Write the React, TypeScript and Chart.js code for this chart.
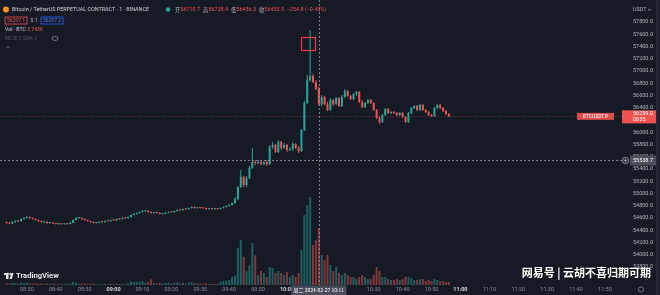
import React, { useEffect, useRef } from "react";
import { Chart, registerables } from "chart.js";

Chart.register(...registerables);

// ---------- data (1-minute candles, BTCUSDT.P, 2024-02-27) ----------
const firstCandleTime = "08:23";

const opens = [
  54525, 54517, 54509, 54533, 54550, 54545, 54583, 54599, 54615, 54599,
  54583, 54566, 54550, 54533, 54536, 54517, 54520, 54509, 54501, 54505,
  54498, 54503, 54500, 54517, 54566, 54599, 54602, 54583, 54566, 54550,
  54533, 54517, 54520, 54533, 54530, 54550, 54546, 54566, 54562, 54583,
  54580, 54599, 54596, 54615, 54648, 54664, 54681, 54697, 54713, 54716,
  54697, 54681, 54684, 54681, 54664, 54668, 54681, 54697, 54694, 54713,
  54730, 54727, 54746, 54742, 54762, 54779, 54762, 54765, 54762, 54758,
  54746, 54750, 54744, 54748, 54746, 54762, 54779, 54795, 54811,
  54844, 54909, 55105, 55268, 55138, 55252, 55415, 55513, 55497, 55513,
  55481, 55513, 55481, 55758, 55791, 55677, 55840, 55742, 55791, 55709,
  55726, 55808, 55742, 55693, 56036, 56477, 56853, 56918, 56820, 56710.7,
  56455, 56575, 56461, 56363, 56526, 56461, 56559, 56428, 56575, 56673,
  56591, 56542, 56624, 56657, 56493, 56411, 56477, 56526, 56477, 56363,
  56232, 56167, 56281, 56379, 56314, 56330, 56314, 56281, 56314, 56248,
  56167, 56314, 56395, 56428, 56363, 56444, 56363, 56330, 56281, 56265,
  56395, 56444, 56395, 56346, 56297,
];

const highs = [
  54540, 54528, 54545, 54562, 54565, 54595, 54610, 54628, 54625, 54608,
  54592, 54575, 54560, 54545, 54542, 54530, 54526, 54518, 54512, 54514,
  54510, 54512, 54528, 54575, 54610, 54612, 54608, 54590, 54572, 54556,
  54540, 54528, 54542, 54540, 54558, 54556, 54575, 54572, 54590, 54590,
  54606, 54606, 54622, 54655, 54672, 54690, 54705, 54722, 54725, 54722,
  54704, 54690, 54690, 54688, 54675, 54690, 54706, 54705, 54722, 54738,
  54736, 54755, 54752, 54770, 54788, 54785, 54770, 54772, 54770, 54765,
  54755, 54756, 54752, 54754, 54770, 54788, 54803, 54820, 54852,
  54942, 55122, 55383, 55285, 55285, 55448, 55742, 55546, 55546, 55546,
  55530, 55546, 55791, 55840, 55808, 55873, 55857, 55824, 55808, 55758,
  55840, 55824, 55775, 56052, 56510, 56934, 57669, 56951, 56853, 56738.4,
  56608, 56591, 56493, 56559, 56542, 56575, 56575, 56608, 56706, 56689,
  56608, 56640, 56673, 56673, 56526, 56493, 56542, 56542, 56493, 56379,
  56265, 56297, 56395, 56395, 56346, 56346, 56330, 56330, 56330, 56265,
  56330, 56411, 56444, 56444, 56461, 56461, 56379, 56346, 56297, 56411,
  56461, 56461, 56411, 56363, 56314,
];

const lows = [
  54505, 54498, 54502, 54525, 54538, 54540, 54575, 54590, 54590, 54575,
  54558, 54540, 54525, 54522, 54510, 54508, 54500, 54492, 54490, 54488,
  54490, 54492, 54495, 54512, 54558, 54588, 54575, 54558, 54542, 54525,
  54508, 54510, 54515, 54522, 54525, 54540, 54540, 54555, 54556, 54572,
  54574, 54588, 54590, 54608, 54640, 54656, 54672, 54690, 54700, 54690,
  54672, 54670, 54672, 54655, 54656, 54660, 54675, 54688, 54688, 54706,
  54720, 54720, 54736, 54736, 54755, 54755, 54752, 54755, 54750, 54738,
  54738, 54736, 54738, 54738, 54740, 54755, 54772, 54788, 54805,
  54828, 54893, 55089, 55105, 55105, 55236, 55399, 55465, 55481, 55465,
  55465, 55448, 55465, 55726, 55661, 55661, 55709, 55726, 55677, 55693,
  55693, 55726, 55661, 55677, 56020, 56461, 56820, 56804, 56689, 56436.3,
  56428, 56444, 56346, 56346, 56428, 56444, 56411, 56411, 56559, 56575,
  56526, 56526, 56591, 56477, 56395, 56395, 56461, 56461, 56346, 56216,
  56134, 56150, 56265, 56297, 56297, 56297, 56265, 56265, 56232, 56150,
  56150, 56297, 56379, 56346, 56346, 56346, 56314, 56265, 56248, 56248,
  56379, 56379, 56330, 56281, 56248,
];

const closes = [
  54517, 54509, 54533, 54550, 54545, 54583, 54599, 54615, 54599, 54583,
  54566, 54550, 54533, 54536, 54517, 54520, 54509, 54501, 54505, 54498,
  54503, 54500, 54517, 54566, 54599, 54602, 54583, 54566, 54550, 54533,
  54517, 54520, 54533, 54530, 54550, 54546, 54566, 54562, 54583, 54580,
  54599, 54596, 54615, 54648, 54664, 54681, 54697, 54713, 54716, 54697,
  54681, 54684, 54681, 54664, 54668, 54681, 54697, 54694, 54713, 54730,
  54727, 54746, 54742, 54762, 54779, 54762, 54765, 54762, 54758, 54746,
  54750, 54744, 54748, 54746, 54762, 54779, 54795, 54811, 54844,
  54909, 55105, 55268, 55138, 55252, 55415, 55513, 55497, 55513, 55481,
  55513, 55481, 55758, 55791, 55677, 55840, 55742, 55791, 55709, 55726,
  55808, 55742, 55693, 56036, 56477, 56853, 56918, 56820, 56706, 56455.5,
  56575, 56461, 56363, 56526, 56461, 56559, 56428, 56575, 56673, 56591,
  56542, 56624, 56657, 56493, 56411, 56477, 56526, 56477, 56363, 56232,
  56167, 56281, 56379, 56314, 56330, 56314, 56281, 56314, 56248, 56167,
  56314, 56395, 56428, 56363, 56444, 56363, 56330, 56281, 56265, 56395,
  56444, 56395, 56346, 56297, 56259,
];

const volumes = [
  120, 90, 150, 110, 80, 160, 130, 140, 100, 90,
  110, 80, 120, 70, 90, 60, 80, 70, 60, 80,
  50, 60, 90, 200, 150, 80, 100, 90, 80, 70,
  90, 60, 70, 50, 80, 60, 70, 60, 90, 60,
  80, 50, 100, 240, 200, 180, 220, 260, 150, 200,
  380, 120, 100, 140, 90, 130, 160, 90, 150, 170,
  100, 140, 90, 160, 180, 120, 90, 100, 80, 110,
  70, 80, 60, 90, 200, 260, 300, 330, 520,
  600, 2450, 2950, 1850, 900, 1300, 2750, 1950, 650, 920,
  790, 530, 1180, 1120, 790, 920, 790, 660, 850, 530,
  660, 530, 790, 2300, 4600, 5250, 5780, 2630, 2950, 3743,
  1970, 1640, 1970, 1310, 920, 1180, 790, 660, 790, 660,
  530, 530, 390, 530, 660, 530, 390, 390, 660, 1180,
  920, 530, 530, 390, 330, 330, 390, 330, 390, 530,
  530, 460, 330, 330, 390, 390, 260, 330, 260, 390,
  330, 260, 260, 200, 200,
];

const crosshairTime = "10:11";
const crosshairPrice = 55538.7;
const crosshairDate = "周二 2024-02-27";
const headerTitle = "Bitcoin / TetherUS PERPETUAL CONTRACT · 1 · BINANCE";
const headerOHLC = [
  ["开", "56710.7"],
  ["高", "56738.4"],
  ["低", "56436.3"],
  ["收", "56455.5"],
];
const headerChange = "−254.8 (−0.45%)";
const sellPrice = "56297.1";
const spread = "0.1";
const buyPrice = "56297.2";
const volLabel = "Vol · BTC";
const volValue = "3.743K";
const countdown = "00:35";
const symbolTag = "BTCUSDT.P";
const markBox = { from: "10:05", to: "10:10", high: 57555, low: 57343 };
const watermark = "网易号 | 云胡不喜归期可期";

// ---------- style ----------
const BG = "#161a25";
const UP = "#26a69a";
const DOWN = "#ef5350";
const UP_VOL = "rgba(38,166,154,0.5)";
const DOWN_VOL = "rgba(239,83,80,0.5)";
const F = "Roboto, 'Noto Sans', 'DejaVu Sans', sans-serif";
const CJK = "'Noto Sans CJK SC', 'Noto Sans', sans-serif";

const toMin = (t: string) => {
  const [h, m] = t.split(":").map(Number);
  return (h - 8) * 60 + m;
};
const fmtMin = (v: number) => {
  const h = 8 + Math.floor(v / 60);
  const m = Math.round(v % 60);
  return `${String(h).padStart(2, "0")}:${String(m).padStart(2, "0")}`;
};

function text(
  ctx: CanvasRenderingContext2D,
  s: string,
  x: number,
  y: number,
  color: string,
  font: string,
  align: CanvasTextAlign = "left"
) {
  ctx.font = font;
  ctx.fillStyle = color;
  ctx.textAlign = align;
  ctx.textBaseline = "middle";
  ctx.fillText(s, x, y);
  return ctx.measureText(s).width;
}

export default function App() {
  const ref = useRef<HTMLCanvasElement>(null);

  useEffect(() => {
    document.body.style.margin = "0";
    document.body.style.background = BG;
    const start = toMin(firstCandleTime);
    const xs = closes.map((_, i) => start + i);
    const colors = closes.map((c, i) => (c >= opens[i] ? UP : DOWN));
    const volColors = closes.map((c, i) => (c >= opens[i] ? UP_VOL : DOWN_VOL));
    const last = closes[closes.length - 1];
    const crossMin = toMin(crosshairTime);

    const overlay = {
      id: "overlay",
      beforeDraw(chart: any) {
        const c = chart.ctx as CanvasRenderingContext2D;
        c.save();
        c.fillStyle = BG;
        c.fillRect(0, 0, chart.width, chart.height);
        c.restore();
      },
      beforeDatasetsDraw(chart: any) {
        const c = chart.ctx as CanvasRenderingContext2D;
        const a = chart.chartArea;
        const py = Math.round(chart.scales.y.getPixelForValue(last)) + 0.5;
        c.save();
        c.strokeStyle = "rgba(239,83,80,0.4)";
        c.lineWidth = 1;
        c.setLineDash([1, 2]);
        c.beginPath();
        c.moveTo(a.left, py);
        c.lineTo(a.right, py);
        c.stroke();
        c.restore();
      },
      afterDatasetsDraw(chart: any) {
        const c = chart.ctx as CanvasRenderingContext2D;
        const a = chart.chartArea;
        const xS = chart.scales.x;
        const yS = chart.scales.y;
        c.save();
        // crosshair
        c.strokeStyle = "rgba(149,152,161,0.8)";
        c.lineWidth = 1;
        c.setLineDash([2, 2]);
        const cx = Math.round(xS.getPixelForValue(crossMin)) + 0.5;
        c.beginPath();
        c.moveTo(cx, a.top);
        c.lineTo(cx, a.bottom);
        c.stroke();
        const cy = Math.round(yS.getPixelForValue(crosshairPrice)) + 0.5;
        c.beginPath();
        c.moveTo(a.left, cy);
        c.lineTo(a.right, cy);
        c.stroke();
        c.setLineDash([]);
        // annotation box
        const bx1 = xS.getPixelForValue(toMin(markBox.from));
        const bx2 = xS.getPixelForValue(toMin(markBox.to));
        const by1 = yS.getPixelForValue(markBox.high);
        const by2 = yS.getPixelForValue(markBox.low);
        c.strokeStyle = "#f23645";
        c.lineWidth = 1.2;
        c.strokeRect(Math.round(bx1) + 0.5, Math.round(by1) + 0.5, Math.round(bx2 - bx1), Math.round(by2 - by1));
        c.restore();
      },
      afterDraw(chart: any) {
        const c = chart.ctx as CanvasRenderingContext2D;
        const a = chart.chartArea;
        const xS = chart.scales.x;
        const yS = chart.scales.y;
        c.save();
        // right strip
        c.fillStyle = "#1e222d";
        c.fillRect(656, 0, 4, chart.height);
        c.fillStyle = "#2a2e39";
        c.fillRect(656, 0, 1, chart.height);

        // axis header
        text(c, "USDT", 633, 10, "#b2b5be", `5.5px ${F}`);
        c.strokeStyle = "#b2b5be";
        c.lineWidth = 0.8;
        c.beginPath();
        c.moveTo(648, 9);
        c.lineTo(649.5, 10.5);
        c.lineTo(651, 9);
        c.stroke();

        // last price
        const py = yS.getPixelForValue(last);
        c.fillStyle = DOWN;
        c.fillRect(a.right, py - 6, 34, 13);
        text(c, last.toFixed(1), 633, py - 2.6, "#ffffff", `5.5px ${F}`);
        text(c, countdown, 633, py + 3.6, "#ffffff", `5px ${F}`);
        c.fillStyle = "rgba(239,83,80,0.9)";
        c.fillRect(577, py - 3.5, 37, 7);
        text(c, symbolTag, 595.5, py, "#ffffff", `5px ${F}`, "center");

        // crosshair price label
        const cy = yS.getPixelForValue(crosshairPrice);
        c.fillStyle = "#4a4e5a";
        c.fillRect(630, cy - 5, 26, 10);
        text(c, crosshairPrice.toFixed(1), 633, cy, "#ffffff", `5.5px ${F}`);
        c.fillStyle = "#2a2e39";
        c.beginPath();
        c.arc(625.5, cy, 3.2, 0, Math.PI * 2);
        c.fill();
        c.strokeStyle = "#b2b5be";
        c.lineWidth = 0.7;
        c.stroke();
        c.beginPath();
        c.moveTo(624, cy);
        c.lineTo(627, cy);
        c.moveTo(625.5, cy - 1.5);
        c.lineTo(625.5, cy + 1.5);
        c.stroke();

        // crosshair date label
        const cx = xS.getPixelForValue(toMin(crosshairTime));
        const dl = `${crosshairDate} ${crosshairTime}`;
        c.font = `5px ${CJK}`;
        const dw = c.measureText(dl).width + 5;
        c.fillStyle = "#4a4e5a";
        c.fillRect(cx - dw / 2, a.bottom + 0.5, dw, 10);
        text(c, dl, cx, a.bottom + 5.3, "#ffffff", `5px ${CJK}`, "center");

        // gear
        c.strokeStyle = "#8a8d96";
        c.lineWidth = 0.8;
        c.beginPath();
        c.arc(641, 289.5, 2.6, 0, Math.PI * 2);
        c.stroke();

        // header line 1
        c.fillStyle = "#f7931a";
        c.beginPath();
        c.arc(6, 9.5, 3, 0, Math.PI * 2);
        c.fill();
        let hx = 12;
        hx += text(c, headerTitle, hx, 9.5, "#d1d4dc", `5.4px ${F}`);
        c.fillStyle = UP;
        c.beginPath();
        c.arc(168, 9.5, 2.3, 0, Math.PI * 2);
        c.fill();
        hx = 175;
        headerOHLC.forEach(([k, v]) => {
          hx += text(c, k, hx, 9.5, "#b2b5be", `5.4px ${CJK}`);
          hx += text(c, v, hx, 9.5, DOWN, `5.4px ${F}`) + 3;
        });
        text(c, headerChange, hx, 9.5, DOWN, `5.4px ${F}`);

        // header line 2
        c.lineWidth = 0.8;
        c.strokeStyle = DOWN;
        c.strokeRect(5, 17, 22, 7);
        text(c, sellPrice, 16, 20.5, DOWN, `5px ${F}`, "center");
        text(c, spread, 34, 20.5, "#b2b5be", `5px ${F}`, "center");
        c.strokeStyle = "#2962ff";
        c.strokeRect(41, 17, 22, 7);
        text(c, buyPrice, 52, 20.5, "#4f7dff", `5px ${F}`, "center");

        // header line 3
        text(c, volLabel, 5, 30, "#d1d4dc", `5.2px ${F}`);
        text(c, volValue, 27, 30, DOWN, `5.2px ${F}`);

        // header line 4
        text(c, "BB 20 2 SMA 2", 5, 38.5, "#50535e", `4.8px ${F}`);
        c.strokeStyle = "#9598a1";
        c.lineWidth = 0.7;
        c.beginPath();
        c.ellipse(55, 38.5, 3, 2, 0, 0, Math.PI * 2);
        c.stroke();
        // collapse arrow
        c.beginPath();
        c.moveTo(6.5, 48);
        c.lineTo(8, 46.5);
        c.lineTo(9.5, 48);
        c.stroke();

        // TradingView logo
        c.fillStyle = "#e8e8ea";
        c.fillRect(4, 273, 4.5, 2);
        c.fillRect(6, 273, 2.5, 6);
        c.beginPath();
        c.arc(10.3, 274, 1.1, 0, Math.PI * 2);
        c.fill();
        c.beginPath();
        c.moveTo(11.5, 273);
        c.lineTo(13.5, 273);
        c.lineTo(11.8, 279);
        c.lineTo(9.6, 279);
        c.fill();
        text(c, "TradingView", 16, 276.5, "#e8e8ea", `bold 7.6px ${F}`);

        // watermark
        c.shadowColor = "rgba(0,0,0,0.7)";
        c.shadowBlur = 2;
        text(c, watermark, 651, 273, "#ffffff", `bold 11px ${CJK}`, "right");
        c.restore();
      },
    };

    const chart = new Chart(ref.current as HTMLCanvasElement, {
      type: "bar",
      data: {
        datasets: [
          {
            label: "body",
            data: xs.map((x, i) => ({ x, y: [opens[i], closes[i]] })) as any,
            backgroundColor: colors,
            barThickness: 2,
            minBarLength: 1,
            grouped: false,
            inflateAmount: 0,
            borderWidth: 0,
            order: 0,
            yAxisID: "y",
          },
          {
            label: "wick",
            data: xs.map((x, i) => ({ x, y: [lows[i], highs[i]] })) as any,
            backgroundColor: colors,
            barThickness: 1,
            minBarLength: 1,
            grouped: false,
            inflateAmount: 0,
            borderWidth: 0,
            order: 1,
            yAxisID: "y",
          },
          {
            label: "volume",
            data: xs.map((x, i) => ({ x, y: volumes[i] })) as any,
            backgroundColor: volColors,
            barThickness: 2,
            grouped: false,
            inflateAmount: 0,
            borderWidth: 0,
            order: 2,
            yAxisID: "yv",
          },
        ],
      },
      options: {
        animation: false,
        responsive: false,
        devicePixelRatio: 1,
        layout: { padding: 0, autoPadding: false },
        plugins: { legend: { display: false }, tooltip: { enabled: false } },
        scales: {
          x: {
            type: "linear",
            min: 20.7,
            max: 235.9,
            offset: false,
            grid: { display: false, drawTicks: false },
            border: { display: false },
            ticks: {
              stepSize: 10,
              includeBounds: false,
              autoSkip: false,
              maxRotation: 0,
              padding: 1.5,
              color: (ctx: any) =>
                ctx.tick && ctx.tick.value % 60 === 0 ? "#d1d4dc" : "#8a8d96",
              font: (ctx: any) => ({
                size: 5.5,
                family: F,
                weight: ctx.tick && ctx.tick.value % 60 === 0 ? "bold" : "normal",
              }),
              callback: (v: any) =>
                Math.abs(Number(v) - toMin(crosshairTime)) <= 9 ? "" : fmtMin(Number(v)),
            },
            afterFit: (s: any) => {
              s.height = 10;
              s.paddingLeft = 0;
              s.paddingRight = 0;
            },
          } as any,
          y: {
            type: "linear",
            position: "right",
            min: 53505,
            max: 58159,
            grid: { display: false, drawTicks: false },
            border: { display: false },
            ticks: {
              stepSize: 200,
              includeBounds: false,
              autoSkip: false,
              padding: 11,
              color: "#b2b5be",
              font: { size: 5.5, family: F },
              callback: (v: any) =>
                Number(v) >= 58000 || Number(v) <= 53600 ? "" : Number(v).toFixed(1),
            },
            afterFit: (s: any) => {
              s.width = 38;
              s.paddingTop = 0;
              s.paddingBottom = 0;
            },
          } as any,
          yv: {
            type: "linear",
            display: false,
            min: 0,
            max: 18725,
          },
        },
      },
      plugins: [overlay],
    });
    return () => chart.destroy();
  }, []);

  return (
    <div style={{ position: "fixed", left: 0, top: 0, width: 660, height: 295, background: BG }}>
      <canvas ref={ref} width={660} height={295} style={{ display: "block" }} />
    </div>
  );
}
